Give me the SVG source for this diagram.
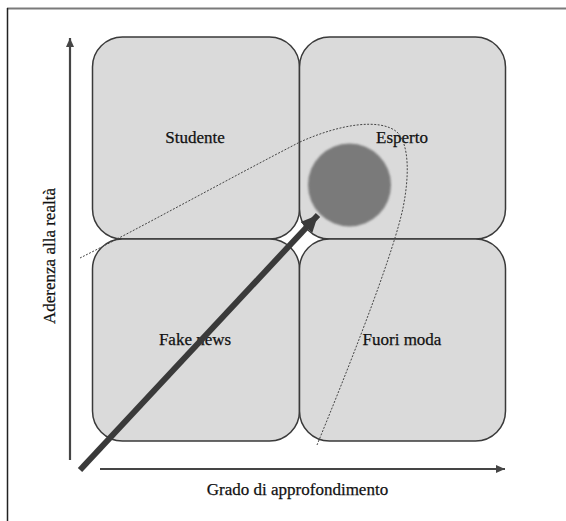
<svg xmlns="http://www.w3.org/2000/svg" width="566" height="521" viewBox="0 0 566 521">
<style>
.box{fill:#dadada;stroke:#3a3a3a;stroke-width:1.5}
.lbl{font-family:"Liberation Serif","DejaVu Serif",serif;font-size:17px;fill:#111;stroke:#111;stroke-width:0.25;text-anchor:middle}
.axis{stroke:#454545;stroke-width:2.2;fill:none}
</style>
<defs>
<marker id="ah" markerUnits="userSpaceOnUse" markerWidth="10" markerHeight="10" refX="9" refY="5" orient="auto"><path d="M0,1 L9,5 L0,9 Z" fill="#454545"/></marker>
<marker id="bh" markerUnits="userSpaceOnUse" markerWidth="18" markerHeight="18" refX="17" refY="9" orient="auto"><path d="M0,1 L17,9 L0,17 Z" fill="#3a3a3a"/></marker>
<filter id="blur" x="-20%" y="-20%" width="140%" height="140%"><feGaussianBlur stdDeviation="1.2"/></filter>
</defs>
<rect width="566" height="521" fill="#fff"/>
<line x1="7" y1="8.5" x2="566" y2="8.5" stroke="#7a7a7a" stroke-width="2"/>
<line x1="7.5" y1="8" x2="7.5" y2="521" stroke="#222" stroke-width="1.5"/>
<g id="studente"><rect class="box" x="92.5" y="37" width="207" height="202" rx="30"/><text class="lbl" x="195" y="143">Studente</text></g>
<g id="esperto"><rect class="box" x="299.5" y="37" width="206" height="202" rx="30"/><text class="lbl" x="402" y="143">Esperto</text></g>
<g id="fake-news"><rect class="box" x="92.5" y="239" width="207" height="202" rx="30"/><text class="lbl" x="195" y="345">Fake news</text></g>
<g id="fuori-moda"><rect class="box" x="299.5" y="239" width="206" height="202" rx="30"/><text class="lbl" x="402" y="345">Fuori moda</text></g>
<g id="target"><circle cx="349.5" cy="185" r="41.5" fill="#7a7a7a" filter="url(#blur)"/></g>
<g id="connectors">
<line class="axis" x1="70" y1="460" x2="70" y2="38" marker-end="url(#ah)"/>
<line class="axis" x1="100" y1="469" x2="505" y2="469" marker-end="url(#ah)"/>
<path d="M80,258 C140,228 230,178 300,142 C340,124 380,118 397,132 C410,145 409,178 403,208 C394,250 360,340 317,445" fill="none" stroke="#444" stroke-width="1" stroke-dasharray="2 1.5"/>
<line x1="80" y1="470" x2="318" y2="215" stroke="#3a3a3a" stroke-width="6" marker-end="url(#bh)"/>
</g>
<text class="lbl" x="297.5" y="495">Grado di approfondimento</text>
<text class="lbl" transform="translate(54.5,256) rotate(-90)">Aderenza alla realtà</text>
</svg>
